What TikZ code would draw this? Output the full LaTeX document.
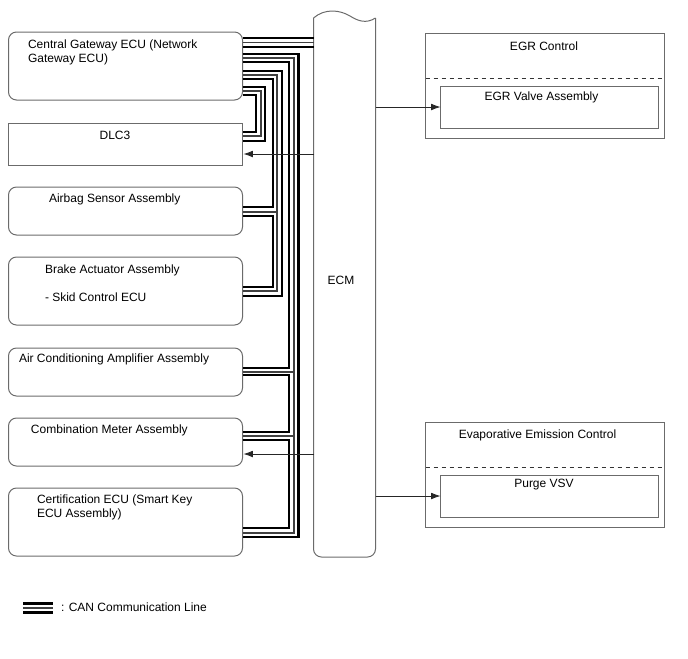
\documentclass[tikz,border=0pt]{standalone}
\usepackage{fontspec}
\setmainfont{Liberation Sans}
\usetikzlibrary{arrows.meta}
\def\px{0.75pt}
\definecolor{boxgray}{gray}{0.42}
\tikzset{
	ecubox/.style={draw=boxgray, line width=0.75pt, rounded corners=6pt, inner sep=0pt, outer sep=0pt},
	squarebox/.style={draw=boxgray, line width=0.75pt, inner sep=0pt, outer sep=0pt},
	lbl/.style={inner sep=0pt, outer sep=0pt, font=\fontsize{9}{10.6}\selectfont, align=left},
	canheavy/.style={line width=2pt, black},
	canthin/.style={line width=1pt, black!75},
	sigline/.style={line width=0.6pt, black!85, -{Latex[length=7pt,width=5pt]}}
}
\begin{document}
\begin{tikzpicture}[x=0.75pt,y=-0.75pt]
	\useasboundingbox (0,0) rectangle (688,658);

	% left hand boxes
	\node[ecubox, minimum width=234*\px, minimum height=68*\px] at (125.5,66) (gateway) {};
	\node[squarebox, minimum width=234*\px, minimum height=42*\px] at (125.5,144) (dlc) {};
	\node[ecubox, minimum width=234*\px, minimum height=48*\px] at (125.5,211) (airbag) {};
	\node[ecubox, minimum width=234*\px, minimum height=68*\px] at (125.5,291) (brake) {};
	\node[ecubox, minimum width=234*\px, minimum height=48*\px] at (125.5,372) (aircon) {};
	\node[ecubox, minimum width=234*\px, minimum height=48*\px] at (125.5,442) (meter) {};
	\node[ecubox, minimum width=234*\px, minimum height=68*\px] at (125.5,522) (cert) {};

	\node[lbl, anchor=west] at (28,52) (gatewaytxt) {Central Gateway ECU (Network\\Gateway ECU)};
	\node[lbl] at (115,135) (dlctxt) {DLC3};
	\node[lbl, anchor=west] at (49,199) (airbagtxt) {Airbag Sensor Assembly};
	\node[lbl, anchor=west] at (45,270) (braketxt) {Brake Actuator Assembly};
	\node[lbl, anchor=west] at (45,297) (skidtxt) {- Skid Control ECU};
	\node[lbl, anchor=west] at (19,359) (aircontxt) {Air Conditioning Amplifier Assembly};
	\node[lbl, anchor=west] at (31,430) (metertxt) {Combination Meter Assembly};
	\node[lbl, anchor=west] at (37,507) (certtxt) {Certification ECU (Smart Key\\ECU Assembly)};

	% ECM, open at the top
	\node[inner sep=0pt, outer sep=0pt, minimum width=62*\px, minimum height=539*\px] at (344.5,287.5) (ecm) {};
	\draw[boxgray, line width=0.75pt, rounded corners=6pt] (ecm.north west) -- (ecm.south west) -- (ecm.south east) -- (ecm.north east);
	\draw[boxgray, line width=0.75pt] (ecm.north west) .. controls (325,8) and (340,10) .. (350,16) .. controls (358,21) and (366,24) .. (ecm.north east);
	\node[lbl] at (341,280) (ecmtxt) {ECM};

	% right hand boxes
	\node[squarebox, minimum width=239*\px, minimum height=105*\px] at (545,85.5) (egr) {};
	\node[squarebox, minimum width=218*\px, minimum height=42*\px] at (549.5,107) (valve) {};
	\node[squarebox, minimum width=239*\px, minimum height=105*\px] at (545,474.5) (evap) {};
	\node[squarebox, minimum width=218*\px, minimum height=42*\px] at (549.5,496) (purge) {};
	\draw[black!80, line width=0.5pt, dashed] (egr.west |- 0,78) -- (egr.east |- 0,78);
	\draw[black!80, line width=0.5pt, dashed] (evap.west |- 0,467) -- (evap.east |- 0,467);

	\node[lbl] at (544,46) (egrtxt) {EGR Control};
	\node[lbl] at (541.5,97) (valvetxt) {EGR Valve Assembly};
	\node[lbl] at (537.5,435) (evaptxt) {Evaporative Emission Control};
	\node[lbl] at (544,485) (purgetxt) {Purge VSV};

	% CAN lines
	\foreach \ya in {38,47}
		\draw[canheavy] (gateway.east |- 0,\ya) -- (ecm.west |- 0,\ya);
	\draw[canthin] (gateway.east |- 0,42.5) -- (ecm.west |- 0,42.5);

	\foreach \a/\ya/\xr/\b/\yb in {gateway/87/265/dlc/141, gateway/95/256/dlc/132,
			gateway/71/282/brake/296, gateway/79/273/airbag/207, airbag/216/273/brake/287,
			gateway/54/298.5/cert/537, gateway/62/289/aircon/368, aircon/375/289/meter/432, meter/440/289/cert/528}
		\draw[canheavy] (\a.east |- 0,\ya) -| (\xr,\yb) -- (\b.east |- 0,\yb);

	\foreach \a/\ya/\xr/\b/\yb in {gateway/91/261/dlc/136, gateway/75/277/brake/291, gateway/58/294/cert/533}
		\draw[canthin] (\a.east |- 0,\ya) -| (\xr,\yb) -- (\b.east |- 0,\yb);
	\foreach \a/\ya/\xr in {airbag/212/277, aircon/372/294, meter/436/294}
		\draw[canthin] (\a.east |- 0,\ya) -- (\xr,\ya);

	% signal lines from the ECM
	\draw[sigline, shorten >=1*\px] (ecm.west |- 0,154) -- (dlc.east |- 0,154);
	\draw[sigline, shorten >=1*\px] (ecm.west |- 0,454) -- (meter.east |- 0,454);
	\draw[sigline] (ecm.east |- valve.west) -- (valve.west);
	\draw[sigline] (ecm.east |- purge.west) -- (purge.west);

	% legend
	\coordinate (legl) at (23,603.5);
	\coordinate (legr) at (53,603.5);
	\draw[canheavy] (legl) -- (legr);
	\draw[canthin] ([yshift=-3.4pt]legl) -- ([yshift=-3.4pt]legr);
	\draw[canheavy] ([yshift=-6.8pt]legl) -- ([yshift=-6.8pt]legr);
	\node[lbl, anchor=west] at (61,607) (legendtxt) {: CAN Communication Line};
\end{tikzpicture}
\end{document}
